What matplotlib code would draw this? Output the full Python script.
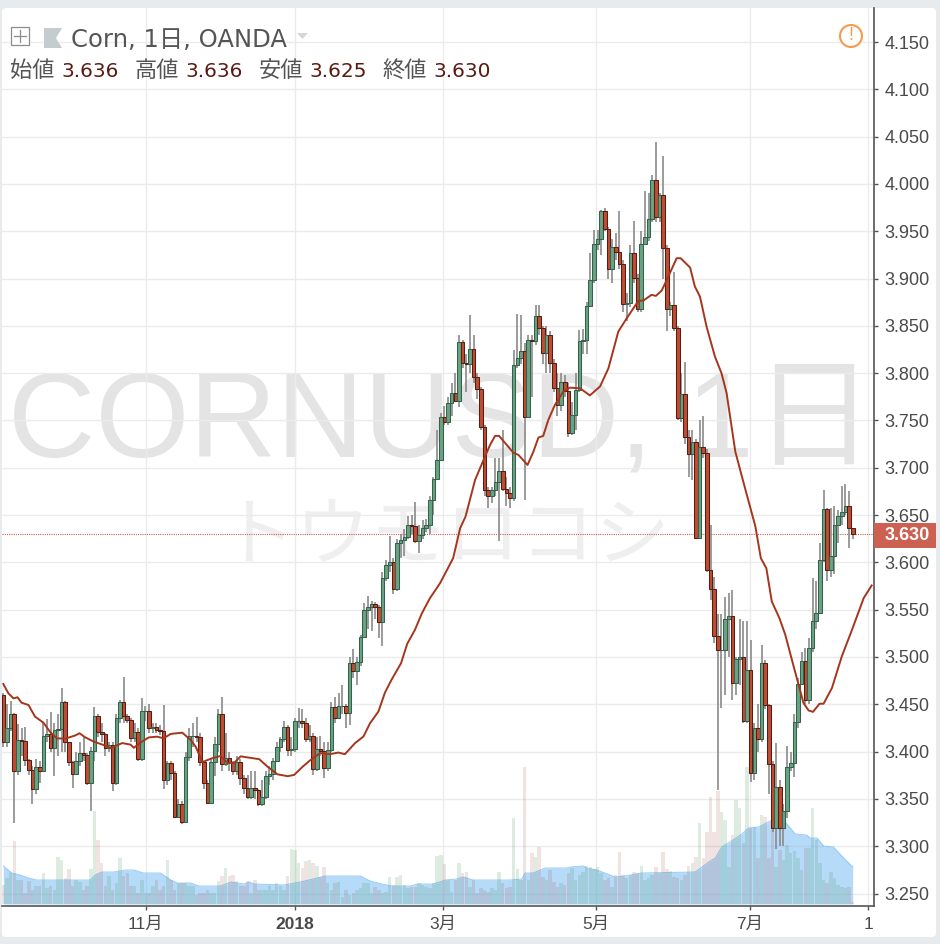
import matplotlib
matplotlib.use("Agg")
import matplotlib.pyplot as plt
from matplotlib.patches import FancyBboxPatch, Polygon, Rectangle, Circle
import numpy as np

# Daily candles, Corn / USD
first_open = 3.460
closes = [
    3.410, 3.425, 3.440, 3.380, 3.412, 3.411, 3.391, 3.381, 3.360, 3.384,
    3.380, 3.416, 3.419, 3.404, 3.423, 3.424, 3.452, 3.410, 3.389, 3.376,
    3.390, 3.399, 3.396, 3.367, 3.401, 3.438, 3.421, 3.419, 3.404, 3.407,
    3.367, 3.436, 3.452, 3.438, 3.433, 3.414, 3.421, 3.392, 3.443, 3.443,
    3.425, 3.426, 3.423, 3.422, 3.370, 3.388, 3.377, 3.331, 3.345, 3.326,
    3.394, 3.416, 3.417, 3.415, 3.389, 3.367, 3.346, 3.389, 3.408, 3.440,
    3.387, 3.393, 3.389, 3.379, 3.389, 3.372, 3.361, 3.352, 3.361, 3.359,
    3.345, 3.352, 3.374, 3.376, 3.390, 3.405, 3.413, 3.426, 3.402, 3.403,
    3.432, 3.432, 3.430, 3.413, 3.416, 3.382,
    3.403, 3.401, 3.383, 3.402, 3.447, 3.436, 3.448, 3.448, 3.441, 3.494,
    3.485, 3.495, 3.521, 3.550, 3.553, 3.556, 3.553, 3.537, 3.583, 3.597,
    3.600, 3.572, 3.620, 3.624, 3.627, 3.640, 3.638, 3.623, 3.629, 3.636,
    3.640,
    3.666, 3.688, 3.708, 3.754, 3.748, 3.769, 3.779, 3.771, 3.833, 3.811,
    3.810, 3.826, 3.796, 3.783, 3.743, 3.676, 3.670, 3.677, 3.685, 3.697,
    3.678, 3.673, 3.668, 3.809,
    3.816, 3.823, 3.754, 3.835, 3.834, 3.860, 3.848, 3.821, 3.840, 3.811,
    3.784, 3.766, 3.791, 3.781, 3.737, 3.756, 3.782, 3.834, 3.835, 3.871,
    3.898, 3.937, 3.942, 3.971, 3.952, 3.910, 3.933, 3.928, 3.915, 3.873,
    3.874, 3.927, 3.901, 3.868, 3.937, 3.944, 3.963, 4.004, 3.965, 3.988,
    3.932, 3.868, 3.872, 3.848, 3.753, 3.778,
    3.733, 3.715, 3.727, 3.626, 3.722, 3.716, 3.592, 3.572, 3.522, 3.507,
    3.507, 3.540, 3.543, 3.472, 3.498, 3.500, 3.432, 3.486, 3.377, 3.425,
    3.413, 3.494, 3.449, 3.387, 3.319, 3.363, 3.319, 3.337, 3.384, 3.388,
    3.431, 3.471, 3.496, 3.455, 3.509, 3.538, 3.547, 3.602, 3.656, 3.592,
    3.607, 3.639, 3.649, 3.653, 3.660, 3.636, 3.630,
]
highs = [
    3.462, 3.450, 3.454, 3.441, 3.429, 3.425, 3.426, 3.392, 3.385, 3.392,
    3.390, 3.430, 3.434, 3.442, 3.430, 3.440, 3.467, 3.453, 3.410, 3.390,
    3.400, 3.410, 3.415, 3.398, 3.405, 3.447, 3.440, 3.430, 3.420, 3.410,
    3.410, 3.440, 3.455, 3.479, 3.440, 3.435, 3.430, 3.425, 3.457, 3.448,
    3.450, 3.430, 3.430, 3.428, 3.449, 3.390, 3.390, 3.380, 3.350, 3.348,
    3.400, 3.425, 3.430, 3.437, 3.420, 3.390, 3.370, 3.392, 3.415, 3.445,
    3.458, 3.420, 3.400, 3.390, 3.395, 3.392, 3.375, 3.375, 3.380, 3.380,
    3.360, 3.370, 3.380, 3.385, 3.393, 3.410, 3.415, 3.432, 3.428, 3.415,
    3.435, 3.446, 3.445, 3.435, 3.428, 3.420,
    3.415, 3.417, 3.410, 3.410, 3.452, 3.458, 3.462, 3.470, 3.450, 3.500,
    3.508, 3.500, 3.523, 3.557, 3.565, 3.559, 3.558, 3.555, 3.590, 3.603,
    3.628, 3.605, 3.625, 3.630, 3.635, 3.649, 3.650, 3.664, 3.640, 3.645,
    3.646,
    3.670, 3.690, 3.740, 3.758, 3.765, 3.775, 3.790, 3.800, 3.840, 3.835,
    3.820, 3.862, 3.840, 3.800, 3.785, 3.745, 3.680, 3.680, 3.710, 3.710,
    3.740, 3.690, 3.680, 3.825,
    3.863, 3.861, 3.832, 3.840, 3.840, 3.872, 3.872, 3.850, 3.850, 3.845,
    3.815, 3.800, 3.800, 3.798, 3.790, 3.770, 3.800, 3.846, 3.847, 3.875,
    3.927, 3.951, 3.951, 3.973, 3.975, 3.955, 3.942, 3.948, 3.971, 3.920,
    3.885, 3.935, 3.961, 3.905, 3.950, 3.993, 3.990, 4.010, 4.044, 3.990,
    4.030, 3.935, 3.875, 3.907, 3.850, 3.800,
    3.812, 3.740, 3.740, 3.730, 3.750, 3.755, 3.720, 3.640, 3.585, 3.545,
    3.545, 3.563, 3.568, 3.571, 3.500, 3.540, 3.538, 3.538, 3.518, 3.430,
    3.450, 3.513, 3.497, 3.450, 3.390, 3.409, 3.370, 3.345, 3.406, 3.400,
    3.440, 3.478, 3.505, 3.510, 3.520, 3.584, 3.580, 3.620, 3.677, 3.658,
    3.657, 3.660, 3.655, 3.681, 3.683, 3.675, 3.636,
]
lows = [
    3.405, 3.405, 3.422, 3.325, 3.375, 3.395, 3.385, 3.375, 3.345, 3.355,
    3.367, 3.378, 3.410, 3.400, 3.374, 3.395, 3.400, 3.400, 3.385, 3.362,
    3.375, 3.385, 3.390, 3.365, 3.337, 3.390, 3.415, 3.410, 3.395, 3.400,
    3.358, 3.365, 3.430, 3.430, 3.430, 3.410, 3.410, 3.390, 3.390, 3.432,
    3.420, 3.420, 3.420, 3.418, 3.360, 3.365, 3.370, 3.330, 3.330, 3.323,
    3.325, 3.390, 3.405, 3.410, 3.385, 3.360, 3.345, 3.345, 3.374, 3.400,
    3.380, 3.385, 3.380, 3.375, 3.375, 3.365, 3.355, 3.350, 3.350, 3.350,
    3.342, 3.343, 3.350, 3.365, 3.370, 3.390, 3.400, 3.410, 3.395, 3.395,
    3.400, 3.425, 3.425, 3.410, 3.410, 3.375,
    3.380, 3.395, 3.372, 3.380, 3.400, 3.430, 3.435, 3.440, 3.425, 3.428,
    3.478, 3.470, 3.490, 3.520, 3.530, 3.527, 3.540, 3.520, 3.512, 3.580,
    3.590, 3.567, 3.570, 3.605, 3.607, 3.625, 3.630, 3.620, 3.610, 3.625,
    3.632,
    3.630, 3.650, 3.690, 3.710, 3.745, 3.745, 3.755, 3.770, 3.764, 3.805,
    3.780, 3.800, 3.790, 3.773, 3.740, 3.670, 3.658, 3.663, 3.670, 3.623,
    3.675, 3.660, 3.657, 3.665,
    3.805, 3.810, 3.666, 3.754, 3.775, 3.830, 3.840, 3.810, 3.800, 3.800,
    3.780, 3.755, 3.760, 3.775, 3.733, 3.735, 3.740, 3.780, 3.820, 3.820,
    3.870, 3.895, 3.930, 3.925, 3.950, 3.900, 3.895, 3.920, 3.910, 3.865,
    3.855, 3.870, 3.895, 3.865, 3.865, 3.935, 3.940, 3.960, 3.960, 3.960,
    3.900, 3.845, 3.860, 3.845, 3.750, 3.748,
    3.725, 3.690, 3.687, 3.625, 3.625, 3.710, 3.590, 3.560, 3.515, 3.359,
    3.446, 3.460, 3.500, 3.455, 3.460, 3.470, 3.430, 3.430, 3.368, 3.370,
    3.400, 3.410, 3.445, 3.355, 3.315, 3.297, 3.300, 3.300, 3.330, 3.380,
    3.373, 3.425, 3.470, 3.450, 3.450, 3.505, 3.530, 3.545, 3.600, 3.580,
    3.585, 3.588, 3.620, 3.640, 3.650, 3.615, 3.625,
]

volumes = [
    19, 26, 31, 63, 24, 24, 11, 23, 14, 18, 18, 31, 16, 18, 14, 47, 44, 26, 35, 18,
    24, 22, 14, 18, 35, 93, 64, 41, 18, 28, 14, 21, 46, 28, 31, 18, 18, 11, 24, 11,
    11, 18, 24, 14, 18, 44, 24, 14, 21, 21, 21, 18, 18, 9, 11, 11, 14, 11, 11, 23,
    28, 36, 28, 29, 23, 18, 18, 23, 11, 24, 14, 14, 14, 18, 14, 21, 18, 14, 28, 55,
    54, 41, 36, 43, 44, 41,
    38, 27, 37, 21, 14, 21, 22, 7, 14, 9, 11, 14, 16, 21, 21, 11, 17, 14,
    11, 12, 27, 19, 27, 29, 19, 16, 17, 17, 21, 19, 17, 16, 21, 48, 49, 40, 24, 12,
    24, 41, 31, 32, 17, 24, 11, 16, 14, 12, 16, 14, 32, 21, 16, 17, 86, 35, 24, 137,
    24, 51, 47, 57, 27, 24, 34, 22, 17, 21, 19, 31, 36, 24, 29, 32, 38, 37, 35, 37,
    31, 24, 26, 17, 29, 52, 29, 26, 29, 32, 31, 38, 24, 26, 29, 37, 31, 52, 35, 33,
    27, 26, 24, 29, 38, 41, 47, 81,
    46, 72, 107, 72, 113, 92, 84, 37, 69, 104, 96, 61, 137, 76, 77, 46, 89, 87, 46, 74,
    37, 54, 44, 59, 51, 53, 46, 34, 56, 56, 96, 64, 41, 24, 21, 32, 26, 19, 17, 16,
    17, 2,
]

# Shaded volume average, sampled along the bars
vol_avg_idx = [
    0, 2.3, 4.6, 6.9, 9.2, 15.6, 23.9, 25.2, 27, 30.3, 33.5, 35.8, 38.5, 43.1, 45.9,
    47.7, 51.4, 53.7, 59.6, 62.4, 66, 67.5, 68.8, 77, 81.4, 85, 88.3, 97.9, 100.6,
    103.8, 106.5, 111.6, 113.8, 118, 121.2, 124.4, 126.2, 128.9, 134.9, 139, 142.2,
    143.1, 145.4, 148.6, 154.5, 155.4, 159.1, 160, 162.8, 165, 167.8, 170.5, 175.1,
    189.8, 193.9, 195.3, 197.1, 198.9, 202.6, 204.4, 207.2, 210.4, 214.5, 217.2,
    220.4, 221.3, 223.2, 225, 227.7, 230.5, 233,
]
vol_avg = [
    38, 31, 29, 26, 24, 24, 24, 29, 32, 32, 34, 34, 31, 31, 24,
    21, 21, 18, 18, 22, 20, 22, 20, 19, 22, 25, 28, 28, 23,
    20, 18, 18, 20, 20, 24, 25, 27, 24, 24, 24, 25,
    31, 31, 36, 36, 37, 38, 36, 34, 31, 27, 28, 31,
    32, 43, 46, 57, 61, 70, 76, 77, 83, 82, 70,
    69, 66, 66, 58, 57, 46, 37,
]

# Moving average line
ma_idx = [
    0, 1.4, 2.8, 3.9, 5, 6.9, 8.7, 11, 12.8, 14.7, 17, 19.7, 20.9, 22.5, 24.8, 27.5,
    29.4, 32.6, 34.9, 35.8, 37.6, 39.9, 42.2, 44, 45.9, 49.1, 51.4, 52.8, 54.6, 57.3,
    59.6, 61.5, 63.3, 65.1, 70.2, 72.5, 75.2, 78, 79.8, 82.1, 84.1, 86.9, 89.6, 91.9,
    93.7, 96.5, 98.8, 100.6, 102.9, 104.7, 106.5, 109.1, 110.8, 112.9, 114.8, 117,
    119.8, 123.4, 125.3, 126.8, 129.4, 131.7, 133.5, 134.9, 136, 139.9, 141.3, 143.8,
    145.4, 146.8, 148.1, 149.5, 151.3, 153.6, 155.4, 158.2, 160.9, 163.7, 166, 168.7,
    171, 174.2, 175.6, 177.8, 179, 180.6, 182.4, 184.7, 185.8, 188.4, 189.7, 191.1,
    192.9, 195.2, 197, 198.4, 200.8, 203.1, 206.3, 207.8, 209.3, 210.8, 212.9, 214.5,
    216.8, 219.5, 220.9, 222.1, 223.9, 225, 227.3, 230, 232.8, 236, 238.2,
]
ma_vals = [
    3.4715, 3.4616, 3.4563, 3.4574, 3.4517, 3.4493, 3.437, 3.4306, 3.421, 3.414, 3.4137,
    3.417, 3.4194, 3.415, 3.4106, 3.407, 3.4035, 3.409, 3.4074, 3.404, 3.4095, 3.415,
    3.4158, 3.414, 3.4187, 3.42, 3.4123, 3.405, 3.389, 3.393, 3.3954, 3.388, 3.388, 3.395,
    3.392, 3.384, 3.376, 3.374, 3.3754, 3.384, 3.3906, 3.3984, 3.3973, 3.399, 3.3973,
    3.409, 3.416, 3.43, 3.4424, 3.4625, 3.476, 3.4934, 3.514, 3.5286, 3.546, 3.562, 3.578,
    3.6045, 3.636, 3.6485, 3.687, 3.708, 3.724, 3.7337, 3.7337, 3.716, 3.7136, 3.703,
    3.717, 3.732, 3.7337, 3.7506, 3.7664, 3.7805, 3.7847, 3.784, 3.7765, 3.786, 3.8053,
    3.844, 3.858, 3.8764, 3.8768, 3.8828, 3.8817, 3.8873, 3.902, 3.9215, 3.9215, 3.9116,
    3.8916, 3.881, 3.8493, 3.8176, 3.80, 3.779, 3.717, 3.6836, 3.638, 3.6044, 3.594,
    3.5587, 3.541, 3.5235, 3.49, 3.4513, 3.4435, 3.442, 3.4506, 3.4506, 3.4672, 3.5006,
    3.5287, 3.5622, 3.5756,
]

price_ticks = [3.25, 3.30, 3.35, 3.40, 3.45, 3.50, 3.55, 3.60, 3.65, 3.70, 3.75, 3.80,
               3.85, 3.90, 3.95, 4.00, 4.05, 4.10, 4.15]
month_ticks = [39.1, 80, 120.6, 162.6, 204.8, 237.2]
month_labels = ['11月', '2018', '3月', '5月', '7月', '1']
last_price = 3.630

W, H = 940, 944
jp_sans = ['Liberation Sans', 'Noto Sans CJK JP']
jp_head = ['DejaVu Sans', 'Noto Sans CJK JP']

fig = plt.figure(figsize=(W / 100, H / 100), dpi=100, facecolor='#e7ebee')

# Rounded white panel and watermark go behind everything
bg = fig.add_axes([0, 0, 1, 1])
bg.set_xlim(0, W)
bg.set_ylim(H, 0)
bg.axis('off')
bg.add_patch(FancyBboxPatch((6, 12), 926, 921, boxstyle='round,pad=4', fc='white', ec='none'))
bg.text(8, 457, 'CORNUSD, 1日', fontsize=87, color='#e4e4e4', family=jp_sans, va='baseline', ha='left')
bg.text(445, 537, 'トウモロコシ', fontsize=54, color='#efefef', family=['Noto Sans CJK JP'], va='center', ha='center')


def box(left, top, right, bottom):
    return [left / W, 1 - bottom / H, (right - left) / W, (bottom - top) / H]


pos = box(2, 8, 873.5, 906)
xlim = (-0.357, 238.7)
ylim = (3.2368, 4.186)

# Grid, ticks and axis lines
ax = fig.add_axes(pos, facecolor='none')
ax.set_xlim(xlim)
ax.set_ylim(ylim)
ax.yaxis.tick_right()
ax.set_yticks(price_ticks)
ax.set_yticklabels(['%.3f' % p for p in price_ticks], fontsize=13, color='#4a4a4a', family='Liberation Sans')
ax.set_xticks(month_ticks)
ax.set_xticklabels(month_labels, fontsize=12.5, color='#4a4a4a', family=jp_sans)
ax.get_xticklabels()[1].set_fontweight('bold')
ax.tick_params(axis='y', length=3, width=1, color='#555555', pad=5)
ax.tick_params(axis='x', length=3, width=1, color='#555555', pad=5)
ax.grid(True, color='#ebebeb', lw=1)
ax.set_axisbelow(True)
for side in ['left', 'top']:
    ax.spines[side].set_visible(False)
for side in ['right', 'bottom']:
    ax.spines[side].set_color('#555555')
    ax.spines[side].set_linewidth(1.2)
ax.axhline(last_price, color='#c8614f', lw=0.8, ls=(0, (1, 1)), zorder=2)

# Volume pane shares the x axis, own scale
ax_vol = fig.add_axes(pos, facecolor='none')
ax_vol.set_xlim(xlim)
ax_vol.set_ylim(-2, 896)
ax_vol.axis('off')
xs = np.arange(len(closes))
opens = np.array([first_open] + closes[:-1])
closes_a = np.array(closes)
up = closes_a >= opens
ax_vol.fill_between(vol_avg_idx, vol_avg, 0, color='#6fb9f5', alpha=0.5, lw=0, zorder=1)
ax_vol.plot(vol_avg_idx, vol_avg, color='#6fb9f5', lw=0.7, alpha=0.7, zorder=1)
vol_arr = np.array(volumes)
ax_vol.bar(xs[up], vol_arr[up], width=0.95, color='#4c925a', alpha=0.18, lw=0, zorder=2)
ax_vol.bar(xs[~up], vol_arr[~up], width=0.95, color='#963c32', alpha=0.14, lw=0, zorder=2)

# Candles and moving average on top
ax_price = fig.add_axes(pos, facecolor='none')
ax_price.set_xlim(xlim)
ax_price.set_ylim(ylim)
ax_price.axis('off')
highs_a = np.maximum(np.array(highs), np.maximum(opens, closes_a))
lows_a = np.minimum(np.array(lows), np.minimum(opens, closes_a))
ax_price.vlines(xs, lows_a, highs_a, color='#8a8a8a', lw=1.2, zorder=3)
for i in xs:
    bottom = min(opens[i], closes_a[i])
    height = abs(closes_a[i] - opens[i])
    if up[i]:
        face, edge = '#6aa383', '#33634a'
    else:
        face, edge = '#bf4c33', '#571d13'
    ax_price.bar(i, height, bottom=bottom, width=0.98, color=face, edgecolor=edge, lw=0.75, zorder=4)

ax_price.plot(ma_idx, ma_vals, color='#a5361c', lw=1.4, zorder=5)

# Header, last price tag and warning icon
top = fig.add_axes([0, 0, 1, 1], facecolor='none')
top.set_xlim(0, W)
top.set_ylim(H, 0)
top.axis('off')
top.add_patch(Rectangle((873.5, 523), 62.5, 25, fc='#cc6152', ec='none'))
top.text(907, 536, '3.630', fontsize=13, fontweight='bold', color='white', family='Liberation Sans', ha='center', va='center')

top.add_patch(Rectangle((11, 27), 18, 18, fc='white', ec='#8c8c8c', lw=0.9))
top.plot([14, 26], [36, 36], color='#8c8c8c', lw=0.9)
top.plot([20, 20], [30, 42], color='#8c8c8c', lw=0.9)
top.add_patch(Polygon([(44, 28), (62, 28), (56, 38), (62, 48), (44, 48)], fc='#c5cccf', ec='none'))
top.text(71, 47, 'Corn, 1日, OANDA', fontsize=17.5, color='#555555', family=jp_head, va='baseline')
top.add_patch(Polygon([(297, 33), (308, 33), (302.5, 39)], fc='#d5d8da', ec='none'))

label_xs = [10, 135, 259, 382]
value_xs = [61, 185, 309, 433]
labels = ['始値', '高値', '安値', '終値']
values = ['3.636', '3.636', '3.625', '3.630']
for lx, vx, lab, val in zip(label_xs, value_xs, labels, values):
    top.text(lx, 77, lab, fontsize=16, color='#555555', family=['Noto Sans CJK JP'], va='baseline')
    top.text(vx, 77, val, fontsize=14.5, color='#5a1a12', family=jp_head, va='baseline')

top.add_patch(Circle((851, 36), 11, fc='white', ec='#f59a4e', lw=1.5))
top.text(851, 36, '!', fontsize=13, color='#f59a4e', family='Liberation Sans', ha='center', va='center')

fig.savefig('out.png', dpi=100)
